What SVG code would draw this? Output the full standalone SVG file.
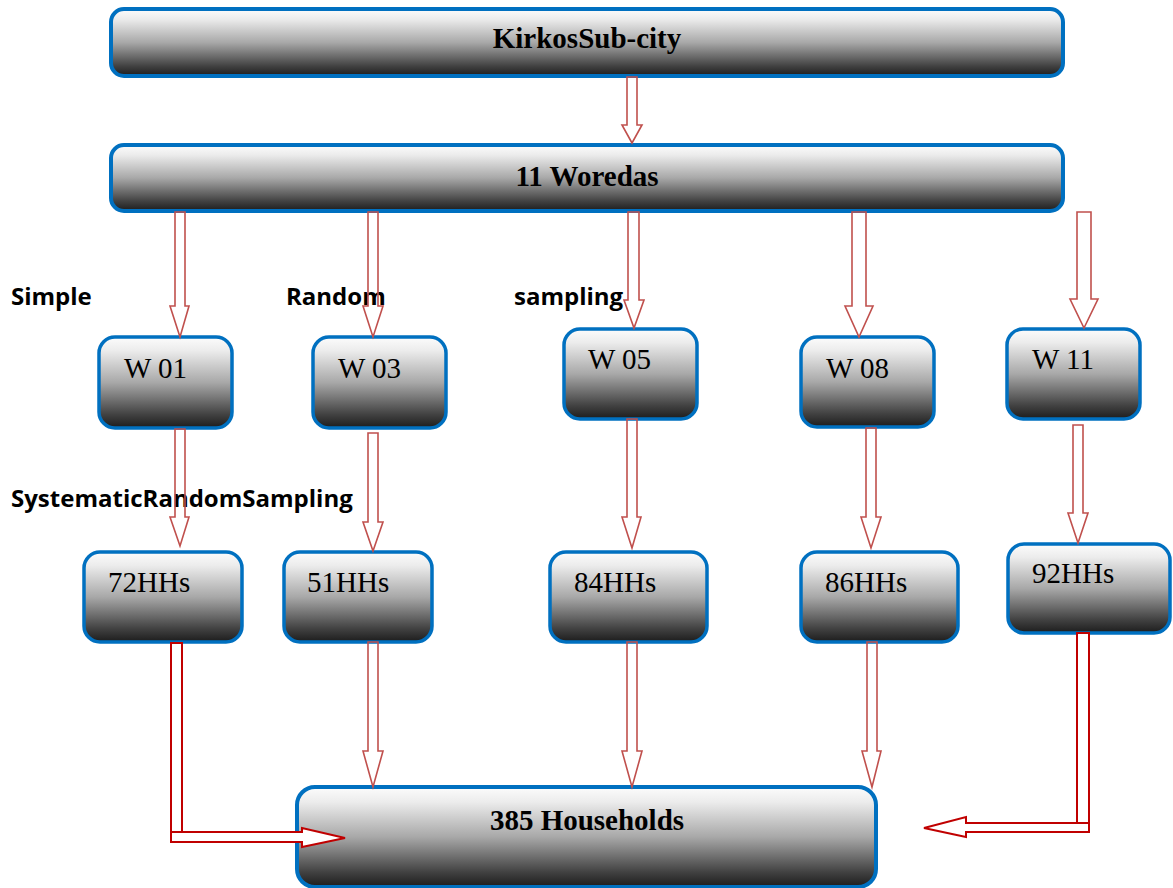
<svg xmlns="http://www.w3.org/2000/svg" width="1173" height="888" viewBox="0 0 1173 888">
<defs>
<linearGradient id="g" x1="0" y1="0" x2="0" y2="1">
<stop offset="0" stop-color="#fcfcfc"/>
<stop offset="0.15" stop-color="#ececec"/>
<stop offset="0.5" stop-color="#a8a8a8"/>
<stop offset="0.85" stop-color="#424242"/>
<stop offset="1" stop-color="#1c1c1c"/>
</linearGradient>
</defs>
<style>
.box{fill:url(#g);stroke:#0070c0;stroke-width:3.5}
.big{stroke-width:4}
.t{font-family:"Liberation Serif","Times New Roman",serif;font-size:29px;fill:#000}
.tb{font-family:"Liberation Serif","Times New Roman",serif;font-size:29px;font-weight:bold;fill:#000}
.lab{font-family:"Open Sans","Liberation Sans",sans-serif;font-size:24px;font-weight:bold;fill:#000}
.ar{fill:none;stroke:#c0504d;stroke-width:1.6}
.ar2{fill:#fff;stroke:#c00000;stroke-width:2}
</style>
<rect width="1173" height="888" fill="#fff"/>

<g id="kirkos"><rect class="box big" x="111" y="9" width="952" height="67" rx="13"/><text class="tb" x="587" y="48" text-anchor="middle">KirkosSub-city</text></g>
<g id="woredas"><rect class="box big" x="111" y="145" width="952" height="66" rx="13"/><text class="tb" x="587" y="186" text-anchor="middle">11 Woredas</text></g>

<g id="w01"><rect class="box" x="99" y="337" width="133" height="91" rx="16"/><text class="t" x="124" y="378">W 01</text></g>
<g id="w03"><rect class="box" x="313" y="337" width="133" height="91" rx="16"/><text class="t" x="338" y="378">W 03</text></g>
<g id="w05"><rect class="box" x="564" y="329" width="133" height="90" rx="16"/><text class="t" x="588" y="369">W 05</text></g>
<g id="w08"><rect class="box" x="801" y="337" width="133" height="90" rx="16"/><text class="t" x="826" y="378">W 08</text></g>
<g id="w11"><rect class="box" x="1007" y="329" width="133" height="90" rx="16"/><text class="t" x="1032" y="369">W 11</text></g>

<g id="hh72"><rect class="box" x="84" y="552" width="158" height="90" rx="16"/><text class="t" x="108" y="592">72HHs</text></g>
<g id="hh51"><rect class="box" x="284" y="552" width="148" height="90" rx="16"/><text class="t" x="307" y="592">51HHs</text></g>
<g id="hh84"><rect class="box" x="550" y="552" width="157" height="90" rx="16"/><text class="t" x="574" y="592">84HHs</text></g>
<g id="hh86"><rect class="box" x="801" y="552" width="157" height="90" rx="16"/><text class="t" x="825" y="592">86HHs</text></g>
<g id="hh92"><rect class="box" x="1008" y="544" width="162" height="89" rx="16"/><text class="t" x="1032" y="583">92HHs</text></g>

<g id="households"><rect class="box big" x="297" y="787" width="579" height="100" rx="18"/><text class="tb" x="587" y="830" text-anchor="middle">385 Households</text></g>

<g id="labels">
<text class="lab" x="11" y="305">Simple</text>
<text class="lab" x="286" y="305">Random</text>
<text class="lab" x="514" y="305">sampling</text>
<text class="lab" x="11" y="507">SystematicRandomSampling</text>
</g>

<g id="connectors">
<polygon class="ar" points="627,77 637,77 637,125 642,125 632,143 622,125 627,125"/>
<polygon class="ar" points="175,212 185,212 185,306 189,306 180,337 170,306 175,306"/>
<polygon class="ar" points="368,212 378,212 378,306 383,306 373,337 363,306 368,306"/>
<polygon class="ar" points="628,212 639,212 639,300 644,300 634,328 624,300 628,300"/>
<polygon class="ar" points="852,212 866,212 866,306 873,306 859,337 845,306 852,306"/>
<polygon class="ar" points="1077,212 1091,212 1091,299 1098,299 1084,328 1070,299 1077,299"/>

<polygon class="ar" points="175,429 185,429 185,517 189,517 180,546 170,517 175,517"/>
<polygon class="ar" points="368,433 378,433 378,522 383,522 373,551 363,522 368,522"/>
<polygon class="ar" points="627,419 637,419 637,517 641,517 632,548 622,517 627,517"/>
<polygon class="ar" points="866,428 876,428 876,517 881,517 871,548 861,517 866,517"/>
<polygon class="ar" points="1073,425 1083,425 1083,513 1088,513 1078,543 1068,513 1073,513"/>

<polygon class="ar" points="368,642 378,642 378,751 383,751 373,787 363,751 368,751"/>
<polygon class="ar" points="627,642 637,642 637,751 642,751 632,787 622,751 627,751"/>
<polygon class="ar" points="867,642 877,642 877,751 881,751 872,787 862,751 867,751"/>

<rect class="ar2" x="171" y="643" width="11" height="189"/>
<polygon class="ar2" points="171,832 302,832 302,828 345,838 302,847 302,842 171,842"/>
<rect class="ar2" x="1077" y="633" width="12" height="190"/>
<polygon class="ar2" points="1089,823 966,823 966,817 924,828 966,837 966,832 1089,832"/>
</g>
</svg>
